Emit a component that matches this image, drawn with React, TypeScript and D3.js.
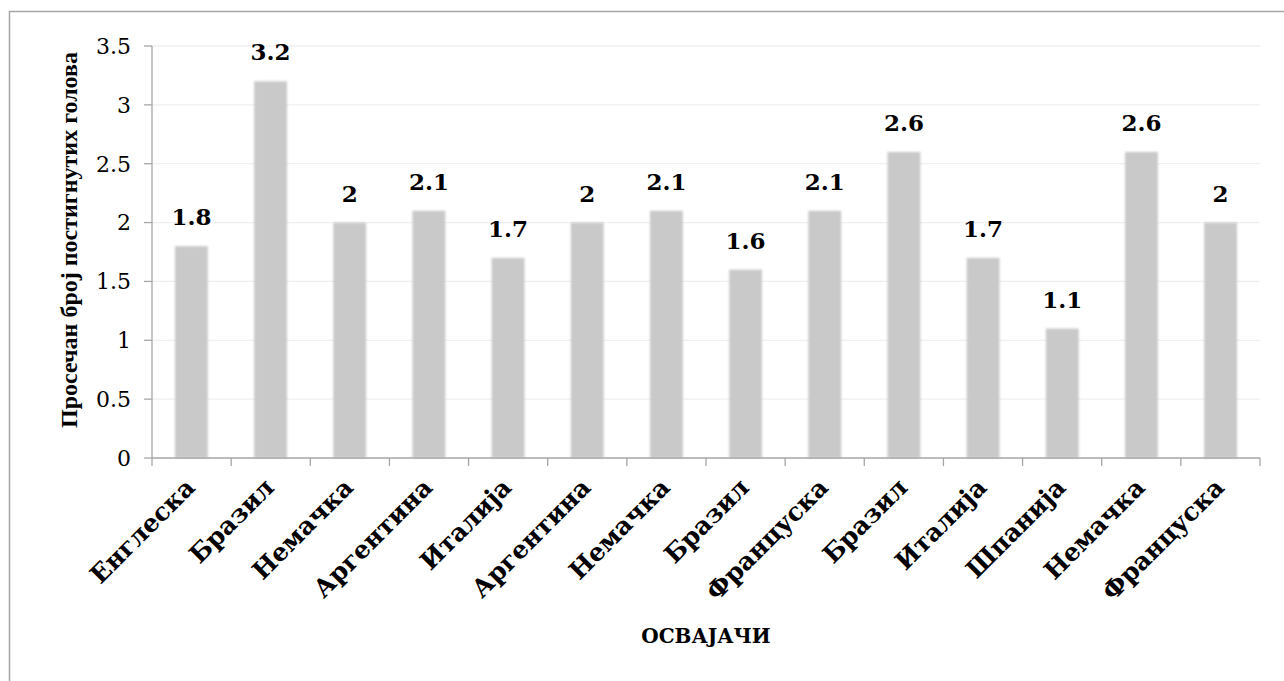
import React from "react";
import * as d3 from "d3";

const categories = ["Енглеска", "Бразил", "Немачка", "Аргентина", "Италија", "Аргентина", "Немачка", "Бразил", "Француска", "Бразил", "Италија", "Шпанија", "Немачка", "Француска"];
const values = [1.8, 3.2, 2, 2.1, 1.7, 2, 2.1, 1.6, 2.1, 2.6, 1.7, 1.1, 2.6, 2];
const yTicks = [0, 0.5, 1, 1.5, 2, 2.5, 3, 3.5];
const yTitle = "Просечан број постигнутих голова";
const xTitle = "ОСВАЈАЧИ";

const W = 1284, H = 681;
const left = 152, right = 1260, top = 46, bottom = 458;
const serif = "'DejaVu Serif', serif";
const times = "'Liberation Serif', serif";

export default function App() {
  const x = d3.scaleBand<number>().domain(d3.range(categories.length)).range([left, right]).paddingInner(0.585).paddingOuter(0.29);
  const y = d3.scaleLinear().domain([0, 3.5]).range([bottom, top]);
  const step = (right - left) / categories.length;
  return (
    <svg width={W} height={H} style={{ position: "absolute", left: 0, top: 0 }}>
      <defs>
        <filter id="soft" x="-20%" y="-5%" width="140%" height="110%">
          <feGaussianBlur stdDeviation="0.9" />
        </filter>
      </defs>
      <rect x={0} y={0} width={W} height={H} fill="#fff" />
      <rect x={9.5} y={11.5} width={W + 20} height={H + 20} fill="none" stroke="#a6a6a6" strokeWidth={1.5} />
      {yTicks.map((t) => (
        <g key={t}>
          {t > 0 && <line x1={left} x2={right} y1={y(t)} y2={y(t)} stroke="#efefef" strokeWidth={1.3} />}
          <line x1={left - 8} x2={left} y1={y(t)} y2={y(t)} stroke="#a6a6a6" strokeWidth={1.3} />
          <text x={left - 21} y={y(t)} dy="0.36em" textAnchor="end" fontFamily={serif} fontSize={22} fill="#000">{t}</text>
        </g>
      ))}
      {values.map((v, i) => (
        <rect key={i} x={x(i)} y={y(v)} width={x.bandwidth()} height={bottom - y(v)} fill="#c9c9c9" filter="url(#soft)" />
      ))}
      <line x1={left} x2={left} y1={top} y2={bottom} stroke="#a6a6a6" strokeWidth={1.3} />
      <line x1={left} x2={right} y1={bottom} y2={bottom} stroke="#a6a6a6" strokeWidth={1.3} />
      {d3.range(categories.length + 1).map((i) => (
        <line key={i} x1={left + i * step} x2={left + i * step} y1={bottom} y2={bottom + 8} stroke="#a6a6a6" strokeWidth={1.3} />
      ))}
      {values.map((v, i) => (
        <text key={i} x={x(i)! + x.bandwidth() / 2} y={y(v) - 21} textAnchor="middle" fontFamily={serif} fontWeight="bold" fontSize={23} fill="#000">{v}</text>
      ))}
      {categories.map((c, i) => {
        const cx = x(i)! + x.bandwidth() / 2 + 5;
        const cy = bottom + 31;
        return (
          <text key={i} transform={`translate(${cx},${cy}) rotate(-45)`} textAnchor="end" fontFamily={serif} fontWeight="bold" fontSize={25} fill="#000">{c}</text>
        );
      })}
      <text transform={`translate(77,240) rotate(-90)`} textAnchor="middle" fontFamily={times} fontWeight="bold" fontSize={24} fill="#000">{yTitle}</text>
      <text x={(left + right) / 2} y={643} textAnchor="middle" fontFamily={serif} fontWeight="bold" fontSize={20} fill="#000">{xTitle}</text>
    </svg>
  );
}
